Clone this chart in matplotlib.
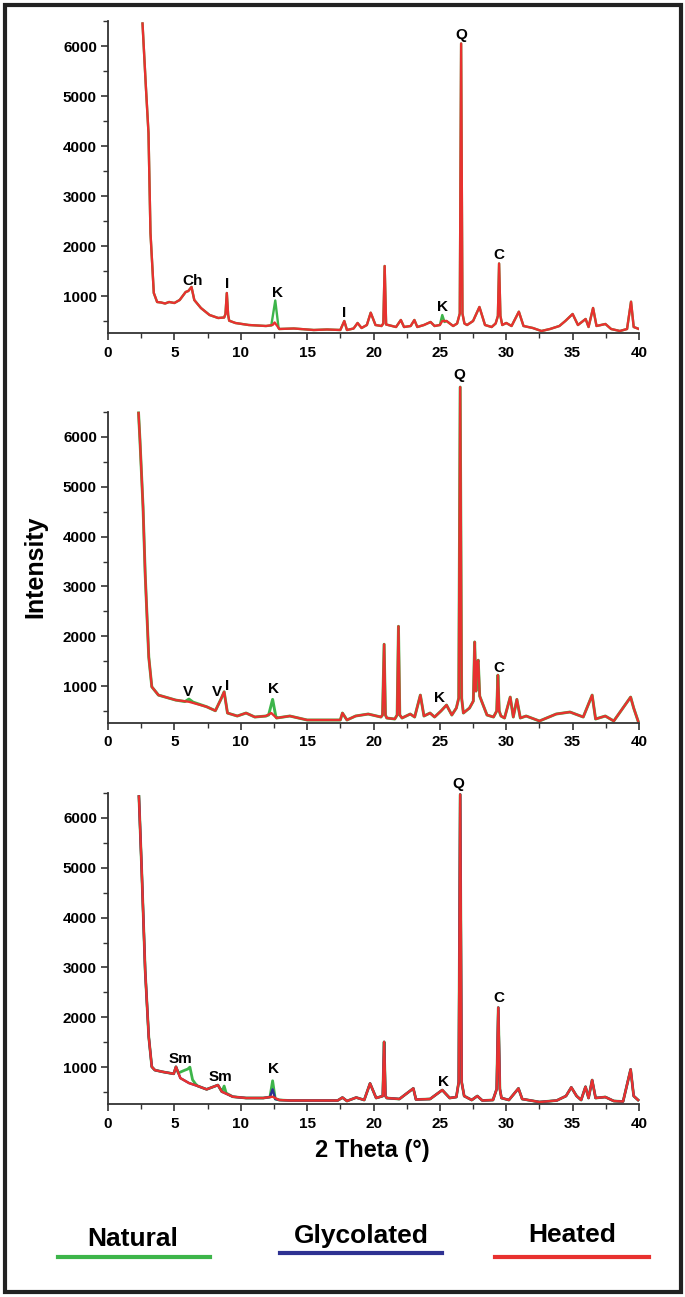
import matplotlib
matplotlib.use("Agg")
import matplotlib.pyplot as plt
from matplotlib.ticker import MultipleLocator
from matplotlib.patches import Rectangle
from matplotlib.lines import Line2D

plt.rcParams['font.family'] = ['Liberation Sans', 'DejaVu Sans']
plt.rcParams['font.weight'] = 'bold'

GREEN = '#3db54a'
NAVY = '#2e3192'
RED = '#e8312f'

# ---- panel 1 (heated trace, natural differs at kaolinite peaks) ----
p1_theta = [2.6, 2.85, 3.05, 3.2, 3.45, 3.7, 4.0, 4.3, 4.6, 5.0, 5.4, 5.85, 6.05, 6.29, 6.5,
            7.0, 7.65, 8.3, 8.75, 8.85, 8.95, 9.05, 9.13, 9.6, 10.6, 11.9, 12.4, 12.55, 12.75, 12.9,
            14.0, 15.5, 16.5, 17.5, 17.8, 18.0, 18.5, 18.8, 19.1, 19.5, 19.79, 20.15, 20.6,
            20.74, 20.84, 20.95, 21.7, 22.06, 22.3, 22.8, 23.08, 23.3, 23.8, 24.3, 24.6, 25.0, 25.18,
            25.5, 26.0, 26.3, 26.5, 26.6, 26.7, 26.85, 27.05, 27.5, 27.98, 28.4, 28.9, 29.2,
            29.37, 29.46, 29.56, 29.7,
            30.0, 30.4, 30.95, 31.3, 32.0, 32.65, 33.3, 34.0, 34.45, 35.0, 35.4, 35.98, 36.2,
            36.54, 36.8, 37.47, 37.9, 38.56, 39.1, 39.4, 39.6, 40.0]
p1_heated = [6450, 5200, 4260, 2260, 1060, 880, 870, 850, 880, 860, 920, 1080, 1100, 1180, 920,
             760, 620, 560, 570, 640, 1060, 620, 506, 460, 420, 400, 420, 470, 400, 340,
             350, 320, 330, 320, 500, 320, 350, 460, 360, 420, 666, 420, 400,
             450, 1600, 430, 380, 520, 380, 400, 520, 380, 420, 480, 400, 420, 500,
             500, 400, 450, 650, 6050, 650, 450, 420, 500, 780, 420, 380, 450,
             600, 1650, 600, 420,
             460, 400, 686, 400, 360, 300, 340, 400, 500, 640, 420, 540, 380,
             760, 400, 440, 340, 300, 340, 886, 380, 340]
p1_natural_peaks = [[(12.3, 410), (12.6, 910), (12.85, 360)],
                    [(25.0, 420), (25.18, 620), (25.35, 480)]]
p1_labels = [('Q', 26.6, 6220), ('C', 29.46, 1820), ('Ch', 6.35, 1300), ('I', 8.95, 1240),
             ('K', 12.8, 1066), ('I', 17.8, 660), ('K', 25.2, 786)]

# ---- panel 2 ----
p2_theta = [2.3, 2.41, 2.64, 2.8, 3.07, 3.3, 3.8, 5.1, 6.1, 7.43, 8.09, 8.5, 8.75, 9.0, 9.74,
            10.4, 11.06, 11.9, 12.3, 12.7, 13.7, 15.0, 17.5, 17.66, 18.0, 18.65, 19.6, 20.56,
            20.68, 20.8, 20.9, 21.0, 21.6, 21.78, 21.88, 21.98, 22.15, 22.77, 23.1, 23.53, 23.8,
            24.26, 24.6, 25.08, 25.5, 25.9, 26.24, 26.42, 26.53, 26.64, 26.77, 27.23, 27.52,
            27.62, 27.72, 27.79, 27.89, 28.0, 28.2, 28.55, 29.04, 29.28, 29.37, 29.47,
            29.6, 29.87, 30.3, 30.53, 30.8, 31.06, 31.5, 32.5, 33.76, 34.8, 35.8, 36.47, 36.73,
            37.46, 38.1, 39.37, 39.6, 39.93]
p2_heated = [6480, 5920, 4586, 3254, 1586, 986, 820, 720, 686, 586, 506, 734, 886, 460, 400,
             460, 380, 400, 460, 360, 400, 320, 320, 460, 320, 400, 440, 380,
             420, 1840, 420, 360, 340, 420, 2200, 420, 360, 440, 380, 820, 400,
             460, 380, 500, 620, 420, 560, 760, 7000, 760, 460, 560, 700,
             1886, 900, 1460, 1520, 800, 660, 420, 380, 500, 1220, 500,
             400, 360, 780, 380, 734, 360, 400, 300, 440, 480, 380, 820, 340,
             400, 300, 780, 560, 300]
p2_natural_peaks = [[(5.8, 690), (6.1, 740), (6.4, 680)],
                    [(12.1, 420), (12.4, 734), (12.65, 380)]]
p2_labels = [('Q', 26.5, 7250), ('C', 29.44, 1366), ('K', 25.0, 766), ('K', 12.44, 934),
             ('V', 6.04, 886), ('V', 8.18, 886), ('I', 8.98, 1000)]

# ---- panel 3 ----
p3_theta = [2.33, 2.54, 2.8, 3.07, 3.3, 3.53, 4.1, 4.95, 5.12, 5.45, 6.1, 6.77, 7.43, 8.28, 8.58,
            9.4, 10.4, 11.7, 12.4, 12.9, 13.7, 17.3, 17.66, 18.0, 18.7, 19.3, 19.74, 20.2,
            20.7, 20.8, 20.9, 21.0, 21.95, 23.0, 23.2, 24.26, 25.18, 25.74, 26.24, 26.42, 26.53,
            26.64, 26.83, 27.4, 27.82, 28.2, 29.0, 29.28, 29.4, 29.52, 29.64, 30.2, 30.92, 31.2,
            32.5, 33.8, 34.5, 34.9, 35.3, 35.64, 35.97,
            36.2, 36.47, 36.73, 37.46, 38.1, 38.8, 39.37, 39.6, 39.93]
p3_heated = [6430, 4940, 2940, 1606, 1006, 940, 906, 866, 1006, 780, 680, 620, 554, 640, 506,
             406, 380, 380, 406, 340, 330, 330, 390, 320, 390, 340, 673, 380,
             420, 1506, 420, 380, 360, 573, 350, 360, 540, 380, 400, 700, 6470,
             700, 420, 340, 420, 330, 340, 560, 2194, 560, 380, 340, 573, 360,
             300, 330, 420, 594, 420, 340, 606,
             380, 740, 380, 400, 320, 310, 954, 420, 340]
p3_natural_peaks = [[(5.3, 880), (5.45, 900), (5.8, 940), (6.0, 960), (6.17, 1000), (6.37, 746), (6.6, 660)],
                    [(8.6, 520), (8.75, 620), (8.9, 480)],
                    [(12.2, 400), (12.4, 726), (12.6, 360)]]
p3_glycolated_peaks = [[(12.2, 400), (12.4, 554), (12.6, 360)]]
p3_labels = [('Q', 26.4, 6680), ('C', 29.47, 2386), ('Sm', 5.45, 1153), ('Sm', 8.48, 806),
             ('K', 12.44, 953), ('K', 25.25, 706)]


def with_peaks(theta, inten, extra):
    # swap in the segments where another treatment differs from the base trace
    t, y = list(theta), list(inten)
    for pts in extra:
        lo, hi = pts[0][0], pts[-1][0]
        keep = [(a, b) for a, b in zip(t, y) if a < lo or a > hi]
        merged = sorted(keep + list(pts))
        t = [p[0] for p in merged]
        y = [p[1] for p in merged]
    return t, y


W, H = 685, 1297
fig = plt.figure(figsize=(W / 100, H / 100), dpi=100)

left = 108 / W
width = (639 - 108) / W
panels = [(21, 333), (412, 723), (793, 1104)]

axes = []
for top, bot in panels:
    ax = fig.add_axes([left, 1 - bot / H, width, (bot - top) / H])
    ax.set_xlim(0, 40)
    ax.set_ylim(260, 6500)
    ax.spines['top'].set_visible(False)
    ax.spines['right'].set_visible(False)
    for s in ('left', 'bottom'):
        ax.spines[s].set_linewidth(1.3)
        ax.spines[s].set_color('#333333')
    ax.xaxis.set_major_locator(MultipleLocator(5))
    ax.xaxis.set_minor_locator(MultipleLocator(2.5))
    ax.yaxis.set_major_locator(MultipleLocator(1000))
    ax.yaxis.set_minor_locator(MultipleLocator(500))
    ax.set_yticks([1000, 2000, 3000, 4000, 5000, 6000])
    ax.tick_params(which='major', direction='out', length=5, width=1.2, color='#333333',
                   labelsize=11)
    ax.tick_params(which='minor', direction='out', length=3.5, width=1.0, color='#333333')
    ax.tick_params(axis='x', pad=4)
    ax.tick_params(axis='y', pad=3)
    for lab in ax.get_xticklabels() + ax.get_yticklabels():
        lab.set_fontweight('bold')
    axes.append(ax)

lw = 1.7

# panel 1
ax = axes[0]
t, y = with_peaks(p1_theta, p1_heated, p1_natural_peaks)
ax.plot(t, y, color=GREEN, lw=lw)
ax.plot(p1_theta, p1_heated, color=RED, lw=lw)
for s, x, v in p1_labels:
    ax.text(x, v, s, ha='center', va='center', fontsize=11, fontweight='bold')

# panel 2 (quartz peak runs past the top of the axis)
ax = axes[1]
t, y = with_peaks(p2_theta, p2_heated, p2_natural_peaks)
ax.plot(t, y, color=GREEN, lw=lw + 0.4, clip_on=False)
ax.plot(p2_theta, p2_heated, color=RED, lw=lw, clip_on=False)
for s, x, v in p2_labels:
    ax.text(x, v, s, ha='center', va='center', fontsize=11, fontweight='bold')

# panel 3
ax = axes[2]
t, y = with_peaks(p3_theta, p3_heated, p3_natural_peaks)
ax.plot(t, y, color=GREEN, lw=lw + 0.3, clip_on=False)
t, y = with_peaks(p3_theta, p3_heated, p3_glycolated_peaks)
ax.plot(t, y, color=NAVY, lw=lw, clip_on=False)
ax.plot(p3_theta, p3_heated, color=RED, lw=lw, clip_on=False)
for s, x, v in p3_labels:
    ax.text(x, v, s, ha='center', va='center', fontsize=11, fontweight='bold')

fig.text(35 / W, 1 - 567 / H, 'Intensity', rotation=90, ha='center', va='center',
         fontsize=18, fontweight='bold')
fig.text(372 / W, 1 - 1150 / H, '2 Theta (°)', ha='center', va='center',
         fontsize=17, fontweight='bold')

# legend drawn by hand, like the original
legend_items = [('Natural', GREEN, 133, 1246, 58, 210, 1257),
                ('Glycolated', NAVY, 361, 1243, 280, 442, 1253),
                ('Heated', RED, 572, 1242, 495, 649, 1257)]
for name, col, xc, yb, x0, x1, yl in legend_items:
    fig.text(xc / W, 1 - yb / H, name, ha='center', va='baseline', fontsize=19,
             fontweight='bold')
    fig.add_artist(Line2D([x0 / W, x1 / W], [1 - yl / H, 1 - yl / H], color=col, lw=3,
                          transform=fig.transFigure))

fig.add_artist(Rectangle((5 / W, 5 / H), 676 / W, 1287 / H, fill=False, lw=3,
                         edgecolor='#222222', transform=fig.transFigure))

fig.savefig('out.png', dpi=100, facecolor='white')
